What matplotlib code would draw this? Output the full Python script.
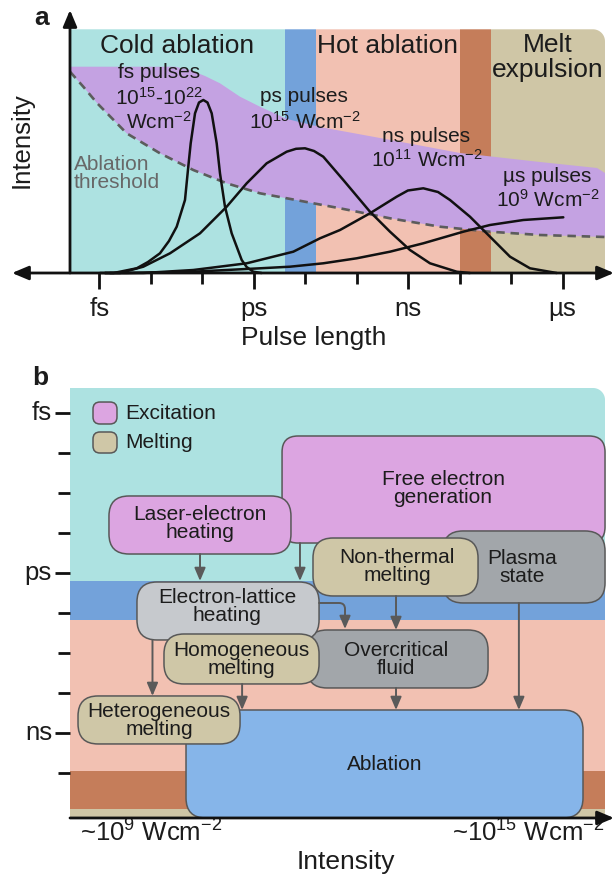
import matplotlib
matplotlib.use('Agg')
import matplotlib.pyplot as plt
from matplotlib.patches import Rectangle, FancyBboxPatch, Polygon
from matplotlib.path import Path
from matplotlib.transforms import IdentityTransform
import numpy as np

plt.rcParams['font.family'] = ['Liberation Sans', 'DejaVu Sans']
plt.rcParams['mathtext.fontset'] = 'custom'
plt.rcParams['mathtext.rm'] = 'Liberation Sans'
plt.rcParams['mathtext.it'] = 'Liberation Sans:italic'
plt.rcParams['mathtext.bf'] = 'Liberation Sans:bold'
plt.rcParams['mathtext.default'] = 'regular'

# ============================ DATA ============================
# ---- Panel a: x = log10(pulse length / s), y = intensity (arb. units)
pulse_tick_pos = [-15, -12, -9, -6]
pulse_tick_labels = ['fs', 'ps', 'ns', 'µs']
pulse_minor_pos = [-14, -13, -11, -10, -8, -7]

regime_names = ['Cold ablation', 'Hot ablation', 'Melt', 'expulsion']
regime_edges = [-15.571, -11.394, -10.792, -7.994, -7.392, -5.177]
regime_top = 2.437

fs_x = [-14.988, -14.726, -14.275, -14.056, -13.823, -13.648, -13.498, -13.337,
        -13.273, -13.226, -13.142, -13.065, -12.981, -12.900, -12.818, -12.721,
        -12.657, -12.560, -12.430, -12.235, -12.139, -12.010, -11.850]
fs_y = [0.0, 0.0, 0.047, 0.11, 0.197, 0.32, 0.463, 0.73,
        1.063, 1.297, 1.597, 1.705, 1.73, 1.705, 1.597, 1.297,
        0.997, 0.663, 0.397, 0.13, 0.06, 0.013, 0.0]

ps_x = [-14.891, -14.600, -14.147, -13.628, -13.045, -12.527, -12.138, -11.750,
        -11.361, -11.180, -11.005, -10.830, -10.650, -10.261, -9.743, -9.354,
        -8.966, -8.577, -8.058, -7.800]
ps_y = [0.0, 0.0, 0.063, 0.197, 0.397, 0.663, 0.897, 1.097,
        1.213, 1.242, 1.247, 1.22, 1.163, 0.93, 0.613, 0.413,
        0.23, 0.097, 0.013, 0.0]

ns_x = [-14.794, -14.147, -13.176, -12.138, -11.233, -10.714, -10.325, -9.743,
        -9.224, -9.006, -8.707, -8.421, -8.188, -7.800, -7.411, -7.022,
        -6.634, -6.115]
ns_y = [0.0, 0.0, 0.03, 0.097, 0.213, 0.347, 0.43, 0.597,
        0.763, 0.825, 0.847, 0.81, 0.73, 0.563, 0.363, 0.163,
        0.047, 0.0]

us_x = [-14.891, -14.470, -13.176, -11.880, -11.297, -10.650, -10.001, -9.354,
        -8.707, -7.930, -7.411, -6.764, -5.987]
us_y = [0.0, 0.0, 0.013, 0.047, 0.063, 0.097, 0.147, 0.213,
        0.297, 0.413, 0.48, 0.53, 0.557]

window_top_x = [-15.571, -13.531, -13.240, -12.948, -12.657, -12.268, -11.880,
                -11.355, -10.714, -9.548, -7.994, -6.440, -5.332, -5.177]
window_top_y = [2.063, 2.063, 2.03, 1.97, 1.897, 1.763, 1.663,
                1.54, 1.46, 1.35, 1.20, 1.11, 1.05, 1.0]

threshold_x = [-15.571, -15.313, -15.047, -14.470, -13.823, -13.176, -12.527,
               -11.880, -11.233, -10.325, -9.354, -8.383, -7.411, -6.440, -5.177]
threshold_y = [2.013, 1.863, 1.70, 1.397, 1.197, 1.03, 0.897,
               0.797, 0.735, 0.647, 0.547, 0.463, 0.413, 0.38, 0.36]

pulse_names = ['fs pulses', 'ps pulses', 'ns pulses', 'µs pulses']
pulse_intensities = ['10$^{15}$-10$^{22}$\nWcm$^{-2}$', '10$^{15}$ Wcm$^{-2}$',
                     '10$^{11}$ Wcm$^{-2}$', '10$^{9}$ Wcm$^{-2}$']

# ---- Panel b: x = log10(intensity / Wcm^-2), y = log10(time / s)
time_tick_pos = [-15, -12, -9]
time_tick_labels = ['fs', 'ps', 'ns']
time_minor_pos = [-14.25, -13.5, -12.75, -11.25, -10.5, -9.75, -8.25]
time_band_edges = [-15.469, -11.85, -11.119, -8.287, -7.575, -7.406]
intensity_range = [9.0, 15.0]
intensity_labels = ['~10$^{9}$ Wcm$^{-2}$', '~10$^{15}$ Wcm$^{-2}$']

process_labels = ['Free electron\ngeneration', 'Laser-electron\nheating', 'Plasma\nstate',
                  'Non-thermal\nmelting', 'Overcritical\nfluid', 'Electron-lattice\nheating',
                  'Homogeneous\nmelting', 'Ablation', 'Heterogeneous\nmelting']
process_kind = ['excite', 'excite', 'gray', 'melt', 'gray', 'light', 'melt', 'ablation', 'melt']
legend_labels = ['Excitation', 'Melting']

# ============================ STYLE / LAYOUT ============================
C_CYAN = '#ade2e1'
C_BLUE = '#73a2da'
C_PINK = '#f2c1b2'
C_BROWN = '#c57d5a'
C_TAN = '#cfc6a6'
C_PURPLE = '#c4a2e2'
band_colors = [C_CYAN, C_BLUE, C_PINK, C_BROWN, C_TAN]
kind_colors = {'excite': '#dca5e1', 'melt': '#cfc7a7', 'gray': '#a2a6aa',
               'light': '#c6c9cd', 'ablation': '#86b5e9'}
EDGE = '#585858'
TXT = '#1c1c1c'

# box extents (I0, I1, t0, t1) in panel-b data units, same order as process_labels
process_boxes = [(11.378, 15.0, -14.569, -12.562),
                 (9.437, 11.478, -13.444, -12.356),
                 (13.183, 15.0, -12.788, -11.438),
                 (11.725, 13.576, -12.656, -11.569),
                 (11.658, 13.688, -10.931, -9.844),
                 (9.751, 11.793, -11.831, -10.744),
                 (10.054, 11.793, -10.856, -9.919),
                 (10.301, 14.753, -9.431, -7.406),
                 (9.090, 10.907, -9.694, -8.794)]
process_text_pos = [(13.183, -13.584), (10.458, -12.928), (14.069, -12.103),
                    (12.667, -12.122), (12.656, -10.378), (10.761, -11.372),
                    (10.918, -10.378), (12.533, -8.40), (9.998, -9.234)]
# arrows: (start, end) ; elbow flag
flow_arrows = [((10.458, -12.356), (10.458, -11.85), False),
               ((11.579, -12.562), (11.579, -11.85), False),
               ((11.793, -11.4375), (12.084, -10.95), True),
               ((12.656, -11.569), (12.656, -10.931), False),
               ((9.925, -10.744), (9.925, -9.694), False),
               ((10.93, -9.919), (10.93, -9.431), False),
               ((12.656, -9.844), (12.656, -9.431), False),
               ((14.034, -11.4375), (14.034, -9.431), False)]

W, H = 616, 876
fig = plt.figure(figsize=(W / 100, H / 100), dpi=100)
ax_a = fig.add_axes([0, 500 / H, 1, 376 / H])
ax_b = fig.add_axes([0, 0, 1, 500 / H])
ax_a.set_xlim(-16.931, -4.963)
ax_a.set_ylim(-1.03, 2.73)
ax_b.set_xlim(8.215, 15.123)
ax_b.set_ylim(-6.318, -15.694)
for ax in (ax_a, ax_b):
    ax.set_axis_off()


def top_right_round_clip(ax, x0, x1, ytop, ybot, r_px):
    X0, Y0 = ax.transData.transform((x0, ybot))
    X1, Y1 = ax.transData.transform((x1, ytop))
    xl, xr = min(X0, X1), max(X0, X1)
    yb, yt = min(Y0, Y1), max(Y0, Y1)
    ang = np.linspace(0, np.pi / 2, 24)
    arc = np.column_stack([xr - r_px + r_px * np.cos(ang), yt - r_px + r_px * np.sin(ang)])
    verts = np.vstack([[xl, yb], [xr, yb], arc, [xl, yt], [xl, yb]])
    return Path(verts, closed=True)


# ============================ PANEL A ============================
clip_a = top_right_round_clip(ax_a, regime_edges[0], regime_edges[-1], regime_top, 0, 12)
for i in range(5):
    r = Rectangle((regime_edges[i], 0), regime_edges[i + 1] - regime_edges[i], regime_top,
                  fc=band_colors[i], ec='none', zorder=1)
    ax_a.add_patch(r)
    r.set_clip_path(clip_a, IdentityTransform())

poly = np.vstack([np.column_stack([window_top_x, window_top_y]),
                  np.column_stack([threshold_x[::-1], threshold_y[::-1]])])
pp = Polygon(poly, closed=True, fc=C_PURPLE, ec='none', zorder=2)
ax_a.add_patch(pp)
pp.set_clip_path(clip_a, IdentityTransform())

ax_a.plot(threshold_x, threshold_y, color='#5c5c5c', lw=1.9, ls=(0, (3.2, 2.2)), zorder=3)

for xs, ys in [(fs_x, fs_y), (ps_x, ps_y), (ns_x, ns_y), (us_x, us_y)]:
    ax_a.plot(xs, ys, color='#111111', lw=1.8, solid_joinstyle='round',
              solid_capstyle='round', zorder=4)

# axes
ax_a.annotate('', xy=(-16.698, 0), xytext=(-5.002, 0),
              arrowprops=dict(arrowstyle='<|-|>,head_length=1.0,head_width=0.42',
                              mutation_scale=10, lw=2.0, color='#111111',
                              shrinkA=0, shrinkB=0), zorder=5)
ax_a.annotate('', xy=(regime_edges[0], 2.63), xytext=(regime_edges[0], 0),
              arrowprops=dict(arrowstyle='-|>,head_length=1.0,head_width=0.42',
                              mutation_scale=10, lw=2.0, color='#111111',
                              shrinkA=0, shrinkB=0), zorder=5)
ax_a.vlines(pulse_tick_pos, -0.16, 0, color='#111111', lw=2.0, zorder=5)
ax_a.vlines(pulse_minor_pos, -0.11, 0, color='#111111', lw=2.0, zorder=5)
for p, lab in zip(pulse_tick_pos, pulse_tick_labels):
    ax_a.text(p, -0.36, lab, ha='center', va='center', fontsize=18.5, color=TXT)
ax_a.text(-10.83, -0.65, 'Pulse length', ha='center', va='center', fontsize=19, color=TXT)
ax_a.text(-16.504, 1.33, 'Intensity', ha='center', va='center', fontsize=18.5,
          rotation=90, color=TXT)
ax_a.text(-16.117, 2.55, 'a', ha='center', va='center', fontsize=19, fontweight='bold',
          color=TXT)

ax_a.text(-13.49, 2.27, regime_names[0], ha='center', va='center', fontsize=19, color=TXT, zorder=6)
ax_a.text(-9.412, 2.27, regime_names[1], ha='center', va='center', fontsize=19, color=TXT, zorder=6)
ax_a.text(-6.284, 2.28, regime_names[2], ha='center', va='center', fontsize=19, color=TXT, zorder=6)
ax_a.text(-6.284, 2.03, regime_names[3], ha='center', va='center', fontsize=19, color=TXT, zorder=6)

PFS = 15
ax_a.text(-13.842, 2.01, pulse_names[0], ha='center', va='center', fontsize=PFS, color=TXT, zorder=6)
ax_a.text(-13.842, 1.63, pulse_intensities[0], ha='center', va='center', fontsize=PFS,
          color=TXT, linespacing=1.15, zorder=6)
ax_a.text(-11.03, 1.76, pulse_names[1], ha='center', va='center', fontsize=PFS, color=TXT, zorder=6)
ax_a.text(-11.0, 1.51, pulse_intensities[1], ha='center', va='center', fontsize=PFS, color=TXT, zorder=6)
ax_a.text(-8.655, 1.36, pulse_names[2], ha='center', va='center', fontsize=PFS, color=TXT, zorder=6)
ax_a.text(-8.64, 1.13, pulse_intensities[2], ha='center', va='center', fontsize=PFS, color=TXT, zorder=6)
ax_a.text(-6.304, 0.96, pulse_names[3], ha='center', va='center', fontsize=PFS, color=TXT, zorder=6)
ax_a.text(-6.29, 0.73, pulse_intensities[3], ha='center', va='center', fontsize=PFS, color=TXT, zorder=6)
ax_a.text(-15.493, 1.08, 'Ablation', ha='left', va='center', fontsize=PFS, color='#686868', zorder=6)
ax_a.text(-15.493, 0.90, 'threshold', ha='left', va='center', fontsize=PFS, color='#686868', zorder=6)

# ============================ PANEL B ============================
PXI = ax_b.transData.transform((1, 0))[0] - ax_b.transData.transform((0, 0))[0]
PXT = abs(ax_b.transData.transform((0, 1))[1] - ax_b.transData.transform((0, 0))[1])
I0, I1 = intensity_range
clip_b = top_right_round_clip(ax_b, I0, I1, time_band_edges[0], time_band_edges[-1], 12)
for i in range(5):
    r = Rectangle((I0, time_band_edges[i]), I1 - I0, time_band_edges[i + 1] - time_band_edges[i],
                  fc=band_colors[i], ec='none', zorder=1)
    ax_b.add_patch(r)
    r.set_clip_path(clip_b, IdentityTransform())


def rbox(ax, x0, x1, y0, y1, r_px, fc, z, lw=1.1):
    rr = r_px / PXI
    p = FancyBboxPatch((x0, y0), x1 - x0, y1 - y0,
                       boxstyle='round,pad=0,rounding_size=%f' % rr,
                       mutation_aspect=PXI / PXT, fc=fc, ec=EDGE, lw=lw, zorder=z)
    ax.add_patch(p)
    return p


# legend
rbox(ax_b, 9.258, 9.527, -15.206, -14.794, 7, kind_colors['excite'], 3)
rbox(ax_b, 9.258, 9.527, -14.644, -14.250, 7, kind_colors['melt'], 3)
ax_b.text(9.617, -15.0, legend_labels[0], ha='left', va='center', fontsize=15, color=TXT)
ax_b.text(9.617, -14.44, legend_labels[1], ha='left', va='center', fontsize=15, color=TXT)

for k, (lab, kind, bx, tp) in enumerate(zip(process_labels, process_kind, process_boxes,
                                            process_text_pos)):
    rad = 16 if k == 0 else 20
    rbox(ax_b, bx[0], bx[1], bx[2], bx[3], rad, kind_colors[kind], 3 + k * 0.1)
    ax_b.text(tp[0], tp[1], lab, ha='center', va='center', fontsize=15, color=TXT,
              linespacing=0.98, zorder=3.05 + k * 0.1)

for (s, e, elbow) in flow_arrows:
    cs = 'angle,angleA=0,angleB=90,rad=6' if elbow else 'arc3'
    ax_b.annotate('', xy=e, xytext=s,
                  arrowprops=dict(arrowstyle='-|>,head_length=1.3,head_width=0.55',
                                  mutation_scale=6, lw=1.4, color='#5a5a5a',
                                  shrinkA=0, shrinkB=0, connectionstyle=cs), zorder=5)

# axes b
ax_b.annotate('', xy=(I0, -15.881), xytext=(I0, -6.937),
              arrowprops=dict(arrowstyle='<|-|>,head_length=1.0,head_width=0.42',
                              mutation_scale=10, lw=2.0, color='#111111',
                              shrinkA=0, shrinkB=0), zorder=6)
ax_b.annotate('', xy=(15.101, time_band_edges[-1]), xytext=(I0, time_band_edges[-1]),
              arrowprops=dict(arrowstyle='-|>,head_length=1.0,head_width=0.42',
                              mutation_scale=10, lw=2.0, color='#111111',
                              shrinkA=0, shrinkB=0), zorder=6)
ax_b.hlines(time_tick_pos, I0 - 0.168, I0, color='#111111', lw=2.0, zorder=6)
ax_b.hlines(time_minor_pos, I0 - 0.135, I0, color='#111111', lw=2.0, zorder=6)
for p, lab in zip(time_tick_pos, time_tick_labels):
    ax_b.text(8.798, p, lab, ha='right', va='center', fontsize=18.5, color=TXT)
ax_b.text(9.112, -7.125, intensity_labels[0], ha='left', va='center', fontsize=18.5, color=TXT)
ax_b.text(14.989, -7.125, intensity_labels[1], ha='right', va='center', fontsize=18.5, color=TXT)
ax_b.text(12.095, -6.581, 'Intensity', ha='center', va='center', fontsize=19, color=TXT)
ax_b.text(8.664, -15.656, 'b', ha='center', va='center', fontsize=19, fontweight='bold', color=TXT)

fig.savefig('out.png', dpi=100)
